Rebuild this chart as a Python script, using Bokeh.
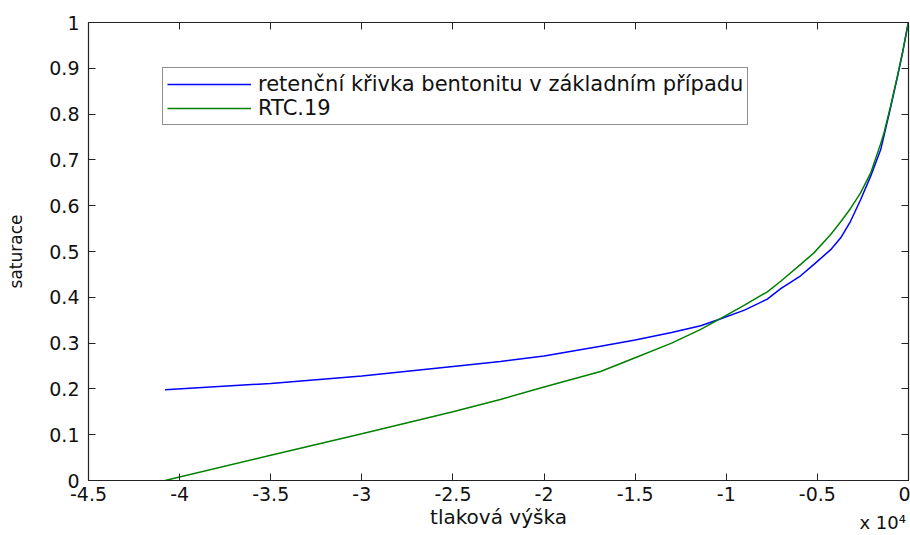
from bokeh.plotting import figure
from bokeh.models import Range1d, FixedTicker, LinearAxis, Legend, LegendItem
from bokeh.embed import file_html
from bokeh.resources import INLINE

# pressure head (m), shared grid for both curves
head = [-40800, -35000, -30000, -25000, -22400, -20000, -16900, -15000, -13000,
        -11400, -10300, -9000, -7750, -7010, -5920, -5190, -4270, -3720, -3180,
        -2630, -2080, -1530, -1350, -980, -610, -320, -60, 0]
sat_bentonite = [0.198, 0.212, 0.228, 0.249, 0.260, 0.272, 0.293, 0.307, 0.323,
                 0.338, 0.353, 0.372, 0.396, 0.419, 0.447, 0.472, 0.504, 0.530, 0.566,
                 0.613, 0.664, 0.722, 0.752, 0.815, 0.881, 0.935, 0.99, 1.0]
sat_rtc19 = [0.0, 0.055, 0.102, 0.150, 0.177, 0.204, 0.238, 0.268, 0.300,
             0.330, 0.354, 0.383, 0.412, 0.435, 0.472, 0.497, 0.537, 0.565, 0.594,
             0.628, 0.671, 0.735, 0.758, 0.818, 0.883, 0.936, 0.99, 1.0]

x_ticks = [-45000, -40000, -35000, -30000, -25000, -20000, -15000, -10000, -5000, 0]
x_tick_labels = ["-4.5", "-4", "-3.5", "-3", "-2.5", "-2", "-1.5", "-1", "-0.5", "0"]
y_ticks = [0, 0.1, 0.2, 0.3, 0.4, 0.5, 0.6, 0.7, 0.8, 0.9, 1.0]
y_tick_labels = ["0", "0.1", "0.2", "0.3", "0.4", "0.5", "0.6", "0.7", "0.8", "0.9", "1"]
x_scale_note = "x 10⁴"

FONT = "DejaVu Sans"
INK = "#222222"

p = figure(width=910, height=535, output_backend="svg", toolbar_location=None,
           x_range=Range1d(-45000, 0), y_range=Range1d(0, 1),
           min_border_left=88, min_border_right=2, min_border_top=22,
           min_border_bottom=53)
p.xgrid.visible = False
p.ygrid.visible = False
p.outline_line_color = INK
p.outline_line_width = 1.2

for ax, ticks, labels in ((p.xaxis[0], x_ticks, x_tick_labels), (p.yaxis[0], y_ticks, y_tick_labels)):
    ax.ticker = FixedTicker(ticks=ticks)
    ax.major_label_overrides = {t: l for t, l in zip(ticks, labels)}
    ax.major_tick_in = 7
    ax.major_tick_out = 0
    ax.minor_tick_line_color = None
    ax.axis_line_color = INK
    ax.major_tick_line_color = INK
    ax.major_label_text_font = FONT
    ax.major_label_text_font_size = "19px"
    ax.major_label_text_color = "#111111"
    ax.axis_label_text_font = FONT
    ax.axis_label_text_font_style = "normal"
    ax.axis_label_text_color = "#111111"

p.xaxis.axis_label = "tlaková výška"
p.xaxis.axis_label_text_font_size = "20px"
p.xaxis.major_label_standoff = 6
p.xaxis.axis_label_standoff = 1
p.yaxis.axis_label = "saturace"
p.yaxis.axis_label_text_font_size = "17px"
p.yaxis.major_label_standoff = 9
p.yaxis.axis_label_standoff = 20

# mirrored ticks on top and right (MATLAB box)
for side, ticks in (("above", x_ticks), ("right", y_ticks)):
    ax = LinearAxis(ticker=FixedTicker(ticks=ticks), major_label_text_font_size="1px",
                    major_label_text_color=None, major_tick_in=7, major_tick_out=0,
                    minor_tick_line_color=None, major_label_standoff=0,
                    axis_line_color=INK, major_tick_line_color=INK)
    p.add_layout(ax, side)

# exponent note under the x axis, at its right end (an extra, tickless axis);
# the label is centred on the axis end, so trailing no-break spaces pull it inside
note = LinearAxis(ticker=FixedTicker(ticks=[]), major_label_text_font_size="1px",
                  major_label_text_color=None, major_tick_in=0, major_tick_out=0,
                  minor_tick_line_color=None, major_label_standoff=0,
                  axis_line_color=None, major_tick_line_color=None,
                  axis_label=x_scale_note + "\u00a0" * 9, axis_label_align="end",
                  axis_label_standoff=-20, axis_label_text_font=FONT,
                  axis_label_text_font_size="18px", axis_label_text_font_style="normal",
                  axis_label_text_color="#111111")
p.add_layout(note, "below")

r1 = p.line(head, sat_bentonite, line_color="#0000ff", line_width=1.5)
r2 = p.line(head, sat_rtc19, line_color="#008000", line_width=1.5)

legend = Legend(items=[LegendItem(label="retenční křivka bentonitu v základním případu", renderers=[r1]),
                       LegendItem(label="RTC.19", renderers=[r2])],
                location=(74, 355), orientation="vertical",
                label_text_font=FONT, label_text_font_size="21px", label_text_color="#111111",
                glyph_width=84, glyph_height=20, label_height=20, spacing=0,
                padding=4, margin=0, label_standoff=7,
                border_line_color=INK, border_line_width=1.2,
                background_fill_alpha=1.0)
p.add_layout(legend, "center")

open("out.html", "w").write(file_html(p, INLINE))
